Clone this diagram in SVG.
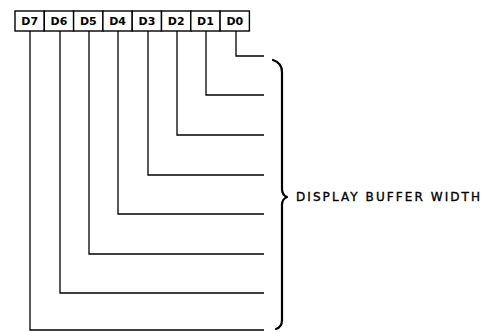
<svg xmlns="http://www.w3.org/2000/svg" width="494" height="332" viewBox="0 0 494 332">
<style>
.box{fill:#fff;stroke:#000;stroke-width:1.4}
.lbl{font-family:"DejaVu Sans","Liberation Sans",sans-serif;font-size:11px;font-weight:bold;text-anchor:middle;fill:#000}
.wire{fill:none;stroke:#000;stroke-width:1.3}
.brace{fill:none;stroke:#000;stroke-width:2.2;stroke-linecap:round;stroke-linejoin:round}
.note{font-family:"DejaVu Sans","Liberation Sans",sans-serif;font-size:12px;fill:#000;stroke:#000;stroke-width:0.35}
</style>
<rect width="494" height="332" fill="#fff"/>
<g id="connectors">
<polyline class="wire" points="236,31 236,56 264,56"/>
<polyline class="wire" points="206,31 206,95 264,95"/>
<polyline class="wire" points="177,31 177,135 264,135"/>
<polyline class="wire" points="148,31 148,175 264,175"/>
<polyline class="wire" points="118,31 118,214 264,214"/>
<polyline class="wire" points="89,31 89,254 264,254"/>
<polyline class="wire" points="60,31 60,293 264,293"/>
<polyline class="wire" points="30,31 30,330 264,330"/>
</g>
<g id="D7"><rect class="box" x="15" y="11" width="29.3" height="20"/><text class="lbl" x="29.7" y="25">D7</text></g>
<g id="D6"><rect class="box" x="44.3" y="11" width="29.3" height="20"/><text class="lbl" x="59" y="25">D6</text></g>
<g id="D5"><rect class="box" x="73.6" y="11" width="29.3" height="20"/><text class="lbl" x="88.3" y="25">D5</text></g>
<g id="D4"><rect class="box" x="102.9" y="11" width="29.3" height="20"/><text class="lbl" x="117.6" y="25">D4</text></g>
<g id="D3"><rect class="box" x="132.2" y="11" width="29.3" height="20"/><text class="lbl" x="146.9" y="25">D3</text></g>
<g id="D2"><rect class="box" x="161.5" y="11" width="29.3" height="20"/><text class="lbl" x="176.2" y="25">D2</text></g>
<g id="D1"><rect class="box" x="190.8" y="11" width="29.3" height="20"/><text class="lbl" x="205.5" y="25">D1</text></g>
<g id="D0"><rect class="box" x="220.1" y="11" width="29.3" height="20"/><text class="lbl" x="234.8" y="25">D0</text></g>
<g id="buffer-width">
<path class="brace" d="M273,60 Q282,63 282,72 L282,189 Q282,195 287,197 Q282,199 282,205 L282,320 Q282,327 276,329"/>
<text class="note" x="296" y="201" textLength="184" lengthAdjust="spacing">DISPLAY BUFFER WIDTH</text>
</g>
</svg>
